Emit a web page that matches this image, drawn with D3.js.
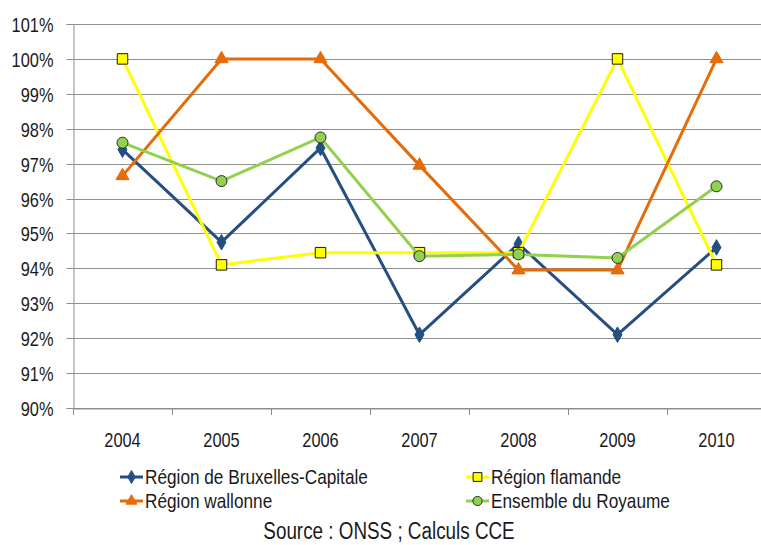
<!DOCTYPE html>
<html><head><meta charset="utf-8">
<script src="https://cdn.jsdelivr.net/npm/d3@7"></script>
<style>
html,body{margin:0;padding:0;background:#fff;}
svg{display:block;}
text{font-family:"Liberation Sans Narrow","Liberation Sans",Arial,sans-serif;fill:#1a1a1a;}
</style></head>
<body>
<script>
const years = ["2004","2005","2006","2007","2008","2009","2010"];
const bruxelles = [97.4, 94.75, 97.45, 92.1, 94.7, 92.1, 94.6];
const flamande = [100, 94.1, 94.45, 94.45, 94.45, 100, 94.1];
const wallonne = [96.65, 100, 100, 96.95, 93.95, 93.95, 100];
const royaume = [97.6, 96.5, 97.75, 94.35, 94.4, 94.3, 96.35];
const yTicks = [90,91,92,93,94,95,96,97,98,99,100,101];
const seriesNames = ["Région de Bruxelles-Capitale","Région flamande","Région wallonne","Ensemble du Royaume"];
const sourceText = "Source : ONSS ; Calculs CCE";

const W = 761, H = 545;
const NX = 0.82; // horizontal condensing to mimic a narrow face
const svg = d3.select("body").append("svg").attr("width", W).attr("height", H);

const x = d3.scaleBand().domain(years).range([73, 766]);
const y = d3.scaleLinear().domain([90, 101]).range([408, 24]);

function narrowText(sel, px, py) {
  sel.attr("x", null).attr("y", null)
     .attr("transform", `translate(${px},${py}) scale(${NX},1)`);
}

// gridlines
svg.append("g").selectAll("line").data(yTicks).join("line")
  .attr("x1", 73).attr("x2", W).attr("y1", d => Math.round(y(d)) + 0.5).attr("y2", d => Math.round(y(d)) + 0.5)
  .attr("stroke", "#8e8e8e").attr("stroke-width", 1);

// y axis
const yAxis = svg.append("g").attr("transform", "translate(73.5,0)")
  .call(d3.axisLeft(y).tickValues(yTicks).tickFormat(d => d + "%").tickSize(7).tickPadding(12));
yAxis.select(".domain").attr("stroke", "#8e8e8e");
yAxis.selectAll(".tick line").attr("stroke", "#8e8e8e");
yAxis.selectAll(".tick").attr("transform", d => `translate(0,${Math.round(y(d)) + 0.5})`);
yAxis.selectAll("text").attr("font-size", 20).attr("font-family", null).attr("fill", null)
  .attr("dy", "0.35em").each(function() { narrowText(d3.select(this), -20, 0); });

// x axis
const xAxis = svg.append("g").attr("transform", "translate(0,408.5)")
  .call(d3.axisBottom(x).tickSize(0).tickPadding(24));
xAxis.select(".domain").attr("stroke", "#8e8e8e");
xAxis.selectAll("text").attr("font-size", 20).attr("font-family", null).attr("fill", null)
  .attr("dy", "0.35em").each(function() { narrowText(d3.select(this), 0, 31); });
svg.append("g").selectAll("line").data(years.concat(["end"])).join("line")
  .attr("x1", (d,i) => Math.round(73 + i * x.step()) + 0.5)
  .attr("x2", (d,i) => Math.round(73 + i * x.step()) + 0.5)
  .attr("y1", 408).attr("y2", 415).attr("stroke", "#8e8e8e");

const cx = d => x(d) + x.bandwidth() / 2;
const line = d3.line().x((d,i) => cx(years[i])).y(d => y(d));

const series = [
  {name: seriesNames[0], values: bruxelles, color: "#254F81", sym: d3.symbolDiamond, size: 70, stroke: "#254F81"},
  {name: seriesNames[1], values: flamande, color: "#FFFF00", sym: d3.symbolSquare, size: 110, stroke: "#1a1a1a"},
  {name: seriesNames[2], values: wallonne, color: "#E46C0A", sym: d3.symbolTriangle, size: 75, stroke: "#E46C0A"},
  {name: seriesNames[3], values: royaume, color: "#92D050", sym: d3.symbolCircle, size: 95, stroke: "#2a2a2a"}
];

series.forEach(s => {
  svg.append("path").datum(s.values).attr("d", line)
    .attr("fill", "none").attr("stroke", s.color).attr("stroke-width", 3).attr("stroke-linejoin", "round");
  svg.append("g").selectAll("path").data(s.values).join("path")
    .attr("d", d3.symbol().type(s.sym).size(s.size))
    .attr("transform", (d,i) => `translate(${cx(years[i])},${y(d)})`)
    .attr("fill", s.color).attr("stroke", s.stroke).attr("stroke-width", 1);
});

// legend
const legPos = [[120, 477], [466, 477], [120, 501], [466, 501]];
series.forEach((s, i) => {
  const [lx, ly] = legPos[i];
  const g = svg.append("g").attr("transform", `translate(${lx},${ly})`);
  g.append("line").attr("x1", 0).attr("x2", 23).attr("y1", 0).attr("y2", 0)
    .attr("stroke", s.color).attr("stroke-width", 3);
  g.append("path").attr("d", d3.symbol().type(s.sym).size(s.size * 0.7))
    .attr("transform", "translate(11.5,0)")
    .attr("fill", s.color).attr("stroke", s.stroke).attr("stroke-width", 1);
  const t = g.append("text").attr("dy", "0.35em").attr("font-size", 21).text(s.name);
  narrowText(t, 25, 0);
});

const src = svg.append("text").attr("dy", "0.35em")
  .attr("text-anchor", "middle").attr("font-size", 23).text(sourceText);
narrowText(src, 389, 531);
</script>
</body></html>
